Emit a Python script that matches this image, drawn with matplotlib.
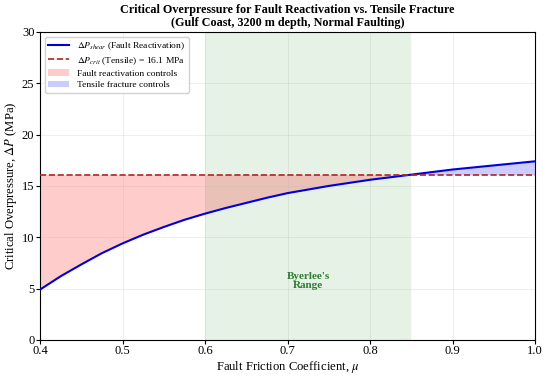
import matplotlib
matplotlib.use("Agg")
import matplotlib.pyplot as plt
import numpy as np

plt.rcParams['font.family'] = ['Liberation Serif', 'DejaVu Serif']
plt.rcParams['mathtext.fontset'] = 'stix'

mu = np.array([0.400, 0.425, 0.450, 0.475, 0.500, 0.525, 0.550, 0.575, 0.600, 0.625,
               0.650, 0.675, 0.700, 0.725, 0.750, 0.775, 0.800, 0.825, 0.850, 0.875,
               0.900, 0.925, 0.950, 0.975, 1.000])
dp_shear = np.array([4.9, 6.2, 7.35, 8.45, 9.4, 10.25, 11.0, 11.7, 12.3, 12.85,
                     13.35, 13.85, 14.3, 14.65, 15.0, 15.3, 15.6, 15.85, 16.1, 16.35,
                     16.6, 16.8, 17.0, 17.2, 17.4])
dp_crit = 16.1
byerlee = (0.6, 0.85)

fig = plt.figure(figsize=(5.5, 3.76), dpi=100)
ax = fig.add_axes([0.0727, 0.096, 0.9003, 0.819])

ax.axvspan(byerlee[0], byerlee[1], color='green', alpha=0.1, lw=0, zorder=0)
ax.plot(mu, dp_shear, color='#0000dd', lw=1.5, label=r'$\Delta P_{shear}$ (Fault Reactivation)', zorder=3)
ax.axhline(dp_crit, color='#b22222', ls='--', lw=1.2, label=r'$\Delta P_{crit}$ (Tensile) = 16.1 MPa', zorder=3)
ax.fill_between(mu, dp_shear, dp_crit, where=dp_shear <= dp_crit, interpolate=True,
                color='red', alpha=0.2, lw=0, label='Fault reactivation controls')
ax.fill_between(mu, dp_shear, dp_crit, where=dp_shear >= dp_crit, interpolate=True,
                color='blue', alpha=0.2, lw=0, label='Tensile fracture controls')

ax.text(0.725, 5.7, "Byerlee's\nRange", ha='center', va='center', color='#2e7d32',
        fontsize=8, fontweight='bold', linespacing=1.0)

ax.set_xlim(0.4, 1.0)
ax.set_ylim(0, 30)
ax.grid(True, alpha=0.25, lw=0.6)
ax.set_xlabel(r'Fault Friction Coefficient, $\mu$', fontsize=9.1, labelpad=1)
ax.set_ylabel(r'Critical Overpressure, $\Delta P$ (MPa)', fontsize=9.1, labelpad=2)
ax.set_title('Critical Overpressure for Fault Reactivation vs. Tensile Fracture\n(Gulf Coast, 3200 m depth, Normal Faulting)',
             fontsize=8.7, fontweight='bold', pad=4, linespacing=1.15)
ax.tick_params(labelsize=9, length=2.8, pad=1.2)
for s in ax.spines.values():
    s.set_linewidth(0.8)
ax.legend(loc='upper left', fontsize=6.8, framealpha=0.9, handlelength=2.2,
          borderaxespad=0.5, labelspacing=0.3)

fig.savefig('out.png', dpi=100)
